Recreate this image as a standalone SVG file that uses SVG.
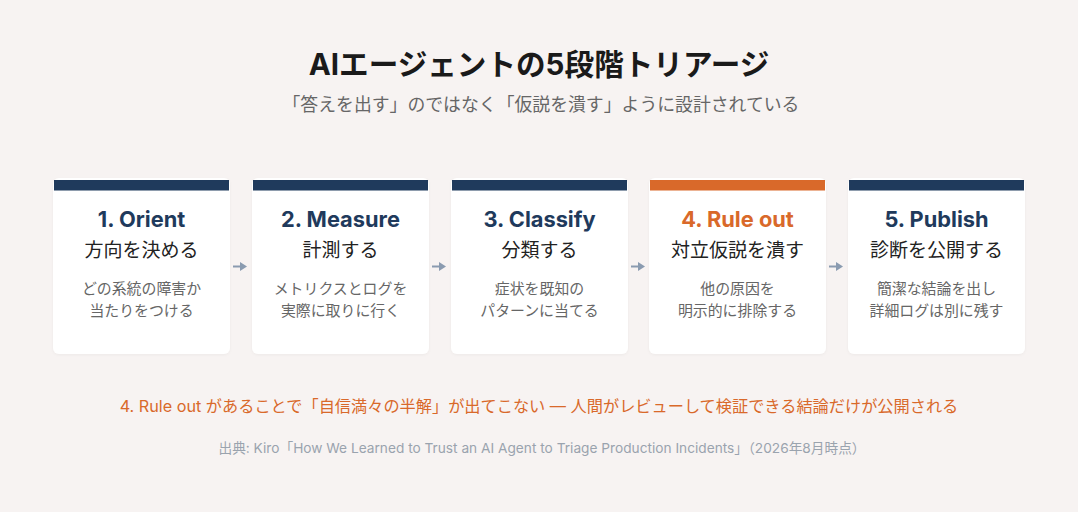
<svg xmlns="http://www.w3.org/2000/svg" width="1078" height="512" viewBox="0 0 1078 512">
<defs>
<style>
.card{fill:#ffffff}
.bar{fill:#1f3a5c}
.bar.hl{fill:#d9692a}
.t{font-family:Inter,"Noto Sans CJK JP",sans-serif;font-weight:700;font-size:21.8px;fill:#1f3a5c;text-anchor:middle}
.t.hl{fill:#d9692a}
.s{font-family:"Noto Sans CJK JP",sans-serif;font-size:19px;fill:#222;text-anchor:middle}
.d{font-family:"Noto Sans CJK JP",sans-serif;font-size:14.9px;fill:#666;text-anchor:middle}
.conn{stroke:#8a9bb0;stroke-width:2;fill:none}
.ah{fill:#8a9bb0}
</style>
<filter id="sh" x="-10%" y="-10%" width="120%" height="120%">
<feDropShadow dx="0" dy="1" stdDeviation="1.5" flood-color="#000" flood-opacity="0.04"/>
</filter>
</defs>
<rect width="1078" height="512" fill="#f7f3f2"/>
<text x="539" y="75" text-anchor="middle" font-family="Inter,'Noto Sans CJK JP',sans-serif" font-weight="700" font-size="29.6" fill="#1a1a1a">AIエージェントの5段階トリアージ</text>
<text x="541" y="111" text-anchor="middle" font-family="'Noto Sans CJK JP',sans-serif" font-size="17.85" fill="#666">「答えを出す」のではなく「仮説を潰す」ように設計されている</text>

<g id="node1">
<rect class="card" x="53" y="178" width="177" height="176" rx="6" filter="url(#sh)"/>
<rect class="bar" x="54" y="180" width="175" height="10.5"/>
<text class="t" x="141.5" y="227">1. Orient</text>
<text class="s" x="141.5" y="257">方向を決める</text>
<text class="d" x="141.5" y="294">どの系統の障害か</text>
<text class="d" x="141.5" y="316">当たりをつける</text>
</g>
<g id="node2">
<rect class="card" x="252" y="178" width="177" height="176" rx="6" filter="url(#sh)"/>
<rect class="bar" x="253" y="180" width="175" height="10.5"/>
<text class="t" x="340.5" y="227">2. Measure</text>
<text class="s" x="340.5" y="257">計測する</text>
<text class="d" x="340.5" y="294">メトリクスとログを</text>
<text class="d" x="340.5" y="316">実際に取りに行く</text>
</g>
<g id="node3">
<rect class="card" x="451" y="178" width="177" height="176" rx="6" filter="url(#sh)"/>
<rect class="bar" x="452" y="180" width="175" height="10.5"/>
<text class="t" x="539.5" y="227">3. Classify</text>
<text class="s" x="539.5" y="257">分類する</text>
<text class="d" x="539.5" y="294">症状を既知の</text>
<text class="d" x="539.5" y="316">パターンに当てる</text>
</g>
<g id="node4">
<rect class="card" x="649" y="178" width="177" height="176" rx="6" filter="url(#sh)"/>
<rect class="bar hl" x="650" y="180" width="175" height="10.5"/>
<text class="t hl" x="737.5" y="227">4. Rule out</text>
<text class="s" x="737.5" y="257">対立仮説を潰す</text>
<text class="d" x="737.5" y="294">他の原因を</text>
<text class="d" x="737.5" y="316">明示的に排除する</text>
</g>
<g id="node5">
<rect class="card" x="848" y="178" width="177" height="176" rx="6" filter="url(#sh)"/>
<rect class="bar" x="849" y="180" width="175" height="10.5"/>
<text class="t" x="936.5" y="227">5. Publish</text>
<text class="s" x="936.5" y="257">診断を公開する</text>
<text class="d" x="936.5" y="294">簡潔な結論を出し</text>
<text class="d" x="936.5" y="316">詳細ログは別に残す</text>
</g>

<g id="connectors">
<line class="conn" x1="233" y1="266.5" x2="241" y2="266.5"/>
<polygon class="ah" points="240,262 247,266.5 240,271"/>
<line class="conn" x1="432" y1="266.5" x2="440" y2="266.5"/>
<polygon class="ah" points="439,262 446,266.5 439,271"/>
<line class="conn" x1="631" y1="266.5" x2="639" y2="266.5"/>
<polygon class="ah" points="638,262 645,266.5 638,271"/>
<line class="conn" x1="829" y1="266.5" x2="837" y2="266.5"/>
<polygon class="ah" points="836,262 843,266.5 836,271"/>
</g>

<text x="539" y="412" text-anchor="middle" font-family="Inter,'Noto Sans CJK JP',sans-serif" font-size="16.2" fill="#d9692a">4. Rule out があることで「自信満々の半解」が出てこない — 人間がレビューして検証できる結論だけが公開される</text>
<text x="542" y="453" text-anchor="middle" font-family="Inter,'Noto Sans CJK JP',sans-serif" font-size="13.7" fill="#9aa3ae">出典: Kiro「How We Learned to Trust an AI Agent to Triage Production Incidents」（2026年8月時点）</text>
</svg>
